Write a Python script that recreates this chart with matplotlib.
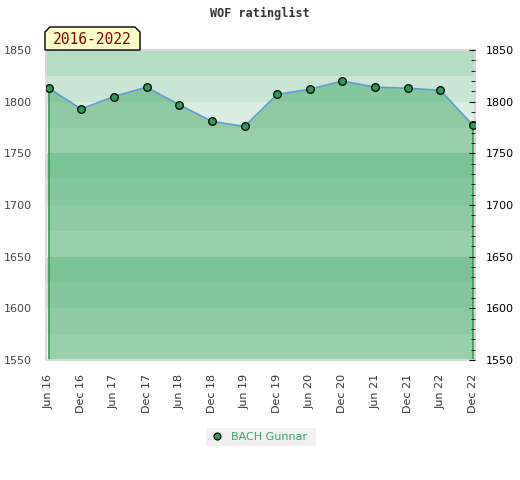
import numpy as np
import matplotlib
matplotlib.use('Agg')
import matplotlib.pyplot as plt
from matplotlib.patches import Polygon, Rectangle
from matplotlib.lines import Line2D

# data
months = ['Jun 16', 'Dec 16', 'Jun 17', 'Dec 17', 'Jun 18', 'Dec 18', 'Jun 19',
          'Dec 19', 'Jun 20', 'Dec 20', 'Jun 21', 'Dec 21', 'Jun 22', 'Dec 22']
ratings = [1813, 1793, 1805, 1814, 1797, 1781, 1776,
           1807, 1812, 1820, 1814, 1813, 1811, 1777]
player = 'BACH Gunnar'
period = '2016-2022'
y_ticks = [1550, 1600, 1650, 1700, 1750, 1800, 1850]

W, H = 520, 480
fig = plt.figure(figsize=(W / 100, H / 100), dpi=100)


def fx(px):
    return px / W


def fy(py):
    return 1 - py / H


ax = fig.add_axes([fx(46), fy(360), fx(475) - fx(46), fy(50) - fy(360)])
ymin, ymax = 1550, 1850
ax.set_ylim(ymin, ymax)
ax.set_xlim(-0.08, 13.06)

# horizontal background bands, 4 shades repeating every 100 points
band_colors = ['#eef7f1', '#dbeee2', '#c9e6d4', '#b3dec4']
for i, lo in enumerate(range(ymin, ymax, 25)):
    ax.axhspan(lo, lo + 25, color=band_colors[i % 4], lw=0, zorder=0)

x = np.arange(len(months))
ax.fill_between(x, ratings, ymin, color='#43aa66', alpha=0.5, lw=0, zorder=1)
ax.vlines([x[0], x[-1]], ymin, [ratings[0], ratings[-1]], color='#2f9e55', lw=1.2, zorder=2)
ax.plot(x, ratings, color='#5b9bd5', lw=1.2, zorder=3)
ax.plot(x, ratings, ls='none', marker='o', ms=5.5, mfc='#2e9a55', mec='black', mew=0.9, zorder=4)

for s in ax.spines.values():
    s.set_color('#d9d9d9')
    s.set_linewidth(1.5)

ax.set_xticks(x)
ax.set_xticklabels(months, rotation=90, fontsize=8, color='#333333')
ax.tick_params(axis='x', length=0, pad=10)
ax.set_yticks(y_ticks)
ax.set_yticklabels([str(t) for t in y_ticks], fontsize=8, color='#444444')
ax.tick_params(axis='y', length=0, pad=10)

ax2 = ax.twinx()
ax2.set_ylim(ymin, ymax)
ax2.set_yticks(y_ticks)
ax2.set_yticks(np.arange(ymin, ymax + 1, 10), minor=True)
ax2.tick_params(axis='y', which='major', direction='in', length=4, color='black', pad=8,
                labelsize=8, labelcolor='black')
ax2.tick_params(axis='y', which='minor', direction='in', length=3, color='black')
for s in ax2.spines.values():
    s.set_visible(False)

# title
fig.text(0.5, fy(13), 'WOF ratinglist', ha='center', va='center',
         fontsize=8.5, fontweight='bold', family='DejaVu Sans Mono', color='#333333')

# period label with clipped top corners
c = 5
pts = [(45, 50), (45, 32), (45 + c, 27), (140 - c, 27), (140, 32), (140, 50)]
fig.patches.append(Polygon([(fx(a), fy(b)) for a, b in pts], closed=True,
                           transform=fig.transFigure, facecolor='#ffffcc',
                           edgecolor='black', lw=1, zorder=5))
fig.text(fx(92.5), fy(40), period, ha='center', va='center', fontsize=10.5,
         family='DejaVu Sans Mono', color='#8b0000', zorder=6)

# legend box
fig.patches.append(Rectangle((fx(206), fy(446)), fx(316) - fx(206), fy(428) - fy(446),
                             transform=fig.transFigure, facecolor='#f0f0f0', lw=0))
fig.lines.append(Line2D([fx(217)], [fy(436)], transform=fig.transFigure, marker='o',
                        ms=5, mfc='#2e9a55', mec='black', mew=0.9, ls='none'))
fig.text(fx(231), fy(436.5), player, ha='left', va='center', fontsize=8, color='#3aa85f')

fig.savefig('out.png', dpi=100)
